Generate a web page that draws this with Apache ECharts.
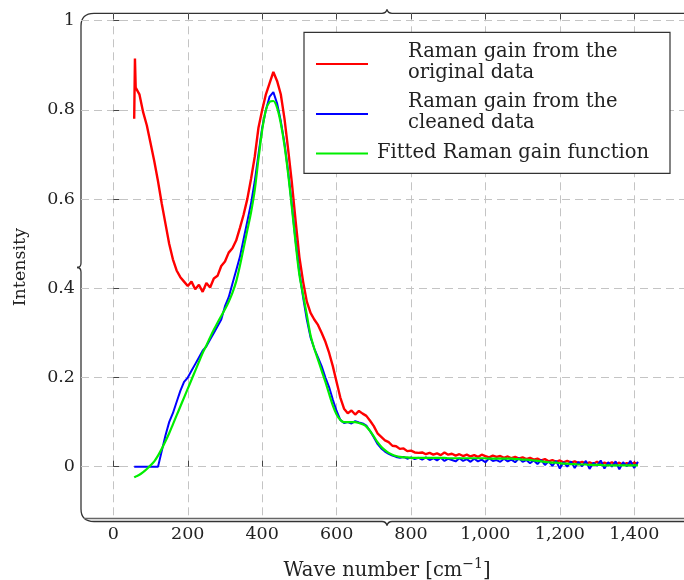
<!DOCTYPE html>
<html>
<head>
<meta charset="utf-8">
<script src="https://cdn.jsdelivr.net/npm/echarts@6/dist/echarts.min.js"></script>
<style>
  html, body { margin: 0; padding: 0; background: #fff; }
  #chart { width: 684px; height: 580px; }
</style>
</head>
<body>
<div id="chart"></div>
<script>
// wave numbers (cm^-1) shared by the three curves
const waveNumbers = [
  56, 58, 60, 70, 80, 90, 100, 110, 120, 130,
  140, 150, 160, 170, 180, 190, 200, 210, 220, 230,
  240, 250, 260, 270, 280, 290, 300, 310, 320, 330,
  340, 350, 360, 370, 380, 390, 400, 410, 420, 430,
  440, 450, 460, 470, 480, 490, 500, 510, 520, 530,
  540, 550, 560, 570, 580, 590, 600, 610, 620, 630,
  640, 650, 660, 670, 680, 690, 700, 710, 720, 730,
  740, 750, 760, 770, 780, 790, 800, 810, 820, 830,
  840, 850, 860, 870, 880, 890, 900, 910, 920, 930,
  940, 950, 960, 970, 980, 990, 1000, 1010, 1020, 1030,
  1040, 1050, 1060, 1070, 1080, 1090, 1100, 1110, 1120, 1130,
  1140, 1150, 1160, 1170, 1180, 1190, 1200, 1210, 1220, 1230,
  1240, 1250, 1260, 1270, 1280, 1290, 1300, 1310, 1320, 1330,
  1340, 1350, 1360, 1370, 1380, 1390, 1400, 1410
];

const originalGain = [
  0.78, 0.915, 0.85, 0.835, 0.795, 0.765, 0.725, 0.685, 0.64, 0.59,
  0.545, 0.5, 0.465, 0.44, 0.425, 0.415, 0.405, 0.415, 0.398, 0.408,
  0.392, 0.412, 0.402, 0.422, 0.428, 0.45, 0.46, 0.48, 0.49, 0.507,
  0.535, 0.565, 0.6, 0.645, 0.695, 0.76, 0.8, 0.835, 0.86, 0.885,
  0.865, 0.835, 0.78, 0.71, 0.635, 0.55, 0.47, 0.415, 0.37, 0.345,
  0.33, 0.318, 0.3, 0.28, 0.255, 0.225, 0.19, 0.155, 0.13, 0.12,
  0.126, 0.117, 0.125, 0.119, 0.114, 0.103, 0.091, 0.075, 0.067, 0.059,
  0.055, 0.047, 0.046, 0.04, 0.041, 0.035, 0.036, 0.032, 0.031, 0.032,
  0.028, 0.031, 0.027, 0.03, 0.026, 0.032, 0.027, 0.029, 0.025, 0.028,
  0.024, 0.027, 0.023, 0.026, 0.022, 0.027, 0.024, 0.021, 0.025, 0.022,
  0.024, 0.02, 0.023, 0.019, 0.022, 0.018, 0.021, 0.017, 0.02, 0.016,
  0.018, 0.014, 0.017, 0.012, 0.015, 0.011, 0.014, 0.01, 0.013, 0.009,
  0.012, 0.008, 0.011, 0.007, 0.01, 0.006, 0.011, 0.005, 0.009, 0.006,
  0.01, 0.005, 0.009, 0.004, 0.008, 0.005, 0.009, 0.006
];

const cleanedGain = [
  0, 0, 0, 0, 0, 0, 0, 0, 0, 0.035,
  0.07, 0.1, 0.12, 0.145, 0.17, 0.19, 0.2, 0.215, 0.23, 0.245,
  0.26, 0.27, 0.285, 0.3, 0.315, 0.33, 0.36, 0.38, 0.41, 0.44,
  0.47, 0.51, 0.55, 0.59, 0.64, 0.7, 0.76, 0.8, 0.83, 0.84,
  0.815, 0.775, 0.725, 0.66, 0.585, 0.505, 0.435, 0.38, 0.33, 0.29,
  0.265, 0.245, 0.225, 0.2, 0.178, 0.15, 0.125, 0.105, 0.098, 0.1,
  0.097, 0.102, 0.099, 0.097, 0.092, 0.08, 0.066, 0.051, 0.041, 0.034,
  0.029, 0.025, 0.022, 0.02, 0.022, 0.018, 0.021, 0.017, 0.02, 0.016,
  0.021, 0.015, 0.019, 0.014, 0.02, 0.013, 0.018, 0.015, 0.012, 0.019,
  0.013, 0.017, 0.011, 0.018, 0.012, 0.016, 0.01, 0.019, 0.013, 0.015,
  0.011, 0.018, 0.012, 0.016, 0.01, 0.019, 0.011, 0.015, 0.008, 0.014,
  0.006, 0.015, 0.004, 0.012, 0.002, 0.013, -0.004, 0.01, 0.0, 0.012,
  -0.003, 0.011, 0.001, 0.013, -0.005, 0.009, 0.002, 0.014, -0.004, 0.01,
  0.0, 0.012, -0.006, 0.01, 0.001, 0.013, -0.003, 0.011
];

const fittedGain = [
  -0.024, -0.023, -0.022, -0.018, -0.012, -0.005, 0.003, 0.012, 0.025, 0.04,
  0.057, 0.075, 0.095, 0.115, 0.135, 0.155, 0.175, 0.195, 0.215, 0.235,
  0.255, 0.272, 0.29, 0.307, 0.323, 0.338, 0.353, 0.37, 0.39, 0.415,
  0.45, 0.49, 0.53, 0.57, 0.62, 0.69, 0.755, 0.8, 0.818, 0.82,
  0.805, 0.77, 0.72, 0.655, 0.58, 0.5, 0.43, 0.385, 0.34, 0.295,
  0.265, 0.24, 0.215, 0.19, 0.163, 0.137, 0.117, 0.105, 0.1, 0.1,
  0.1, 0.1, 0.098, 0.095, 0.09, 0.08, 0.068, 0.055, 0.045, 0.037,
  0.031, 0.027, 0.024, 0.022, 0.021, 0.021, 0.02, 0.02, 0.02, 0.02,
  0.02, 0.02, 0.02, 0.02, 0.02, 0.02, 0.019, 0.019, 0.019, 0.019,
  0.019, 0.019, 0.019, 0.019, 0.019, 0.019, 0.019, 0.018, 0.018, 0.018,
  0.018, 0.018, 0.018, 0.018, 0.017, 0.017, 0.016, 0.016, 0.015, 0.014,
  0.013, 0.012, 0.011, 0.01, 0.009, 0.009, 0.008, 0.007, 0.007, 0.006,
  0.006, 0.005, 0.005, 0.005, 0.004, 0.004, 0.004, 0.004, 0.003, 0.003,
  0.003, 0.003, 0.003, 0.003, 0.003, 0.003, 0.003, 0.003
];

const xTicks = [0, 200, 400, 600, 800, 1000, 1200, 1400];
const yTicks = [0, 0.2, 0.4, 0.6, 0.8, 1];
const seriesNames = [
  'Raman gain from the original data',
  'Raman gain from the cleaned data',
  'Fitted Raman gain function'
];
const seriesColors = ['#ff0000', '#0000ff', '#00ee00'];

const font = 'DejaVu Serif';
const pair = ys => waveNumbers.map((x, i) => [x, ys[i]]);

const chart = echarts.init(document.getElementById('chart'));

const frame = '#333';
const seg = (x1, y1, x2, y2) => ({ type: 'line', shape: { x1, y1, x2, y2 }, style: { stroke: frame, lineWidth: 1.3 }, silent: true });
const curve = (x1, y1, cpx1, cpy1, x2, y2) => ({ type: 'bezierCurve', shape: { x1, y1, cpx1, cpy1, x2, y2 }, style: { stroke: frame, lineWidth: 1.3, fill: null }, silent: true });
const txt = (text, x, y) => ({ type: 'text', style: { text, x, y, font: '19.5px "' + font + '"', fill: '#222', verticalAlign: 'middle' }, z: 20 });
const sample = (y, color) => ({ type: 'line', shape: { x1: 316, y1: y, x2: 368, y2: y }, style: { stroke: color, lineWidth: 2 }, z: 20 });

chart.setOption({
  animation: false,
  backgroundColor: '#fff',
  grid: { left: 81, top: 13.3, width: 612, height: 507.7, containLabel: false, outerBoundsMode: 'none' },
  xAxis: [{
    type: 'value', min: -87, max: 1558,
    axisLine: { show: false },
    axisTick: { show: true, inside: true, length: 6, customValues: xTicks, lineStyle: { color: '#444' } },
    axisLabel: {
      customValues: xTicks, margin: 4, color: '#222', fontFamily: font, fontSize: 17.5,
      formatter: v => v.toLocaleString('en-US')
    },
    splitLine: { show: true, lineStyle: { color: '#c4c4c4', type: [8, 5], width: 1 } },
    name: '{n|Wave number [cm}{s|−1}{n|]}',
    nameLocation: 'middle', nameGap: 36,
    nameTextStyle: {
      rich: {
        n: { fontFamily: font, fontSize: 19.5, color: '#222', lineHeight: 24, verticalAlign: 'bottom' },
        s: { fontFamily: font, fontSize: 14, color: '#222', lineHeight: 24, verticalAlign: 'top' }
      }
    }
  }, {
    type: 'value', position: 'top', min: -87, max: 1558,
    axisLine: { show: false },
    axisTick: { show: true, inside: true, length: 6, customValues: xTicks, lineStyle: { color: '#444' } },
    axisLabel: { show: false },
    splitLine: { show: false }
  }],
  yAxis: {
    type: 'value', min: -0.1217, max: 1.0166,
    axisLine: { show: false },
    axisTick: { show: true, inside: true, length: 6, customValues: yTicks, lineStyle: { color: '#444' } },
    axisLabel: { customValues: yTicks, margin: 6, color: '#222', fontFamily: font, fontSize: 17.5 },
    splitLine: { show: true, lineStyle: { color: '#c4c4c4', type: [8, 5], width: 1 } },
    name: 'Intensity', nameLocation: 'middle', nameGap: 52,
    nameTextStyle: { fontFamily: font, fontSize: 17.5, color: '#222' }
  },
  series: [0, 1, 2].map(k => ({
    name: seriesNames[k],
    type: 'line',
    data: pair([originalGain, cleanedGain, fittedGain][k]),
    showSymbol: false,
    smooth: k === 2 ? 0.3 : false,
    lineStyle: { color: seriesColors[k], width: [2.4, 2, 2.2][k] },
    z: 3 + k
  })),
  graphic: [
    // rounded frame with braces
    curve(81, 26, 81, 13.3, 94, 13.3),
    seg(94, 13.3, 382, 13.3),
    curve(382, 13.3, 386, 13.3, 387, 9.5),
    curve(387, 9.5, 388, 13.3, 392, 13.3),
    seg(392, 13.3, 684, 13.3),
    seg(81, 26, 81, 263),
    curve(81, 263, 81, 267.5, 77, 267.5),
    curve(77, 267.5, 81, 267.5, 81, 272),
    seg(81, 272, 81, 509),
    curve(81, 509, 81, 521.5, 94, 521.5),
    seg(94, 521.5, 382, 521.5),
    curve(382, 521.5, 386, 521.5, 387, 525.5),
    curve(387, 525.5, 388, 521.5, 392, 521.5),
    seg(392, 521.5, 684, 521.5),
    { type: 'line', shape: { x1: 84, y1: 518.5, x2: 684, y2: 518.5 }, style: { stroke: '#666', lineWidth: 1.3 }, silent: true },
    // legend box
    { type: 'rect', shape: { x: 304, y: 32.3, width: 366, height: 141 }, style: { fill: '#fff', stroke: '#333', lineWidth: 1.2 }, z: 19 },
    sample(64, seriesColors[0]),
    sample(114, seriesColors[1]),
    sample(153.5, seriesColors[2]),
    txt('Raman gain from the', 408, 52.3),
    txt('original data', 408, 73.3),
    txt('Raman gain from the', 408, 101.7),
    txt('cleaned data', 408, 123.3),
    txt('Fitted Raman gain function', 377, 153)
  ]
});
</script>
</body>
</html>
